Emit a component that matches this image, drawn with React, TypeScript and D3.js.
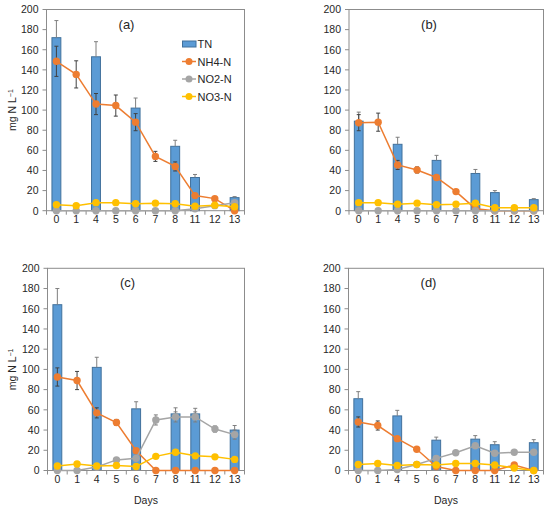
import React from "react";
import * as d3 from "d3";

const days = ["0", "1", "4", "5", "6", "7", "8", "11", "12", "13"];
const yTicks = [0, 20, 40, 60, 80, 100, 120, 140, 160, 180, 200];

// Panel (a)
const tnA = [172, null, 153, null, 102, null, 64, 33, null, 13];
const tnErrA = [17, null, 15, null, 10, null, 6, 3, null, 1];
const nh4A = [148.5, 135.5, 106, 104.5, 88, 54, 44, 15, 12, 0];
const nh4ErrA = [15, 13.5, 10.5, 10.5, 8.5, 5, 4.5, 2, 1, 0];
const no2A = [0, 0, 0, 0, 0, 0, 0, 2, 5, 8];
const no2ErrA = [0, 0, 0, 0, 0, 0, 0, 0, 0, 0];
const no3A = [6, 5, 8, 8, 7, 7.5, 7, 4.5, 5.5, 4];

// Panel (b)
const tnB = [89, null, 66, null, 50, null, 37, 18, null, 11];
const tnErrB = [9, null, 7, null, 5, null, 4, 2, null, 1];
const nh4B = [87.5, 88, 45.5, 40.5, 33, 19, 2, 0, 0, 0];
const nh4ErrB = [8, 9, 4.5, 3, 2, 1, 0, 0, 0, 0];
const no2B = [0, 0, 0, 0, 0, 0, 0, 0, 0, 0];
const no2ErrB = [0, 0, 0, 0, 0, 0, 0, 0, 0, 0];
const no3B = [8, 8, 6.5, 7.5, 6, 6.5, 7.5, 3, 3, 3];

// Panel (c)
const tnC = [164, null, 102, null, 61, null, 56, 56, null, 40];
const tnErrC = [16, null, 10, null, 7, null, 6, 5.5, null, 4.5];
const nh4C = [92.5, 89, 57, 47.5, 19.5, 0, 0, 0, 0, 0];
const nh4ErrC = [9, 9, 5, 3, 0, 0, 0, 0, 0, 0];
const no2C = [0, 0, 3.5, 10.5, 12, 50, 53, 53, 41, 35.5];
const no2ErrC = [0, 0, 0, 0, 0, 5, 5, 5, 3, 4.5];
const no3C = [4.5, 6.5, 4.5, 5, 4, 14, 18, 14.5, 13.5, 11];

// Panel (d)
const tnD = [71, null, 54, null, 30, null, 31, 25.5, null, 27.5];
const tnErrD = [7, null, 5.5, null, 3, null, 3.5, 3, null, 3];
const nh4D = [48, 44.5, 31.5, 21, 4, 0, 0, 0, 5.5, 0];
const nh4ErrD = [5, 4.5, 0, 0, 0, 0, 0, 0, 0, 0];
const no2D = [0, 0, 1, 6, 12, 17.5, 24.5, 17, 18, 18];
const no2ErrD = [0, 0, 0, 0, 0, 0, 0, 0, 0, 0];
const no3D = [6, 7, 5, 6, 5.5, 7, 7, 5.5, 2.5, 0];

const legendLabels = ["TN", "NH4-N", "NO2-N", "NO3-N"];

const C_TN = "#5B9BD5";
const C_TN_EDGE = "#41719C";
const C_NH4 = "#ED7D31";
const C_NO2 = "#A5A5A5";
const C_NO3 = "#FFC000";
const AXIS = "#8C8C8C";
const TXT = "#262626";
const FONT = "'Liberation Sans', Arial, sans-serif";

type P = {
  label: string;
  left: number;
  right: number;
  top: number;
  bottom: number;
  tn: (number | null)[];
  tnErr: (number | null)[];
  nh4: number[];
  nh4Err: number[];
  no2: number[];
  no2Err: number[];
  no3: number[];
  yTitle: boolean;
  xTitle: boolean;
  legend: boolean;
};

const panels: P[] = [
  { label: "(a)", left: 46.5, right: 244.5, top: 9.5, bottom: 210.7, tn: tnA, tnErr: tnErrA, nh4: nh4A, nh4Err: nh4ErrA, no2: no2A, no2Err: no2ErrA, no3: no3A, yTitle: true, xTitle: false, legend: true },
  { label: "(b)", left: 349, right: 543.5, top: 9.5, bottom: 210.7, tn: tnB, tnErr: tnErrB, nh4: nh4B, nh4Err: nh4ErrB, no2: no2B, no2Err: no2ErrB, no3: no3B, yTitle: false, xTitle: false, legend: false },
  { label: "(c)", left: 47.5, right: 244.5, top: 268.3, bottom: 470.5, tn: tnC, tnErr: tnErrC, nh4: nh4C, nh4Err: nh4ErrC, no2: no2C, no2Err: no2ErrC, no3: no3C, yTitle: true, xTitle: true, legend: false },
  { label: "(d)", left: 348.5, right: 543.5, top: 268.3, bottom: 470.5, tn: tnD, tnErr: tnErrD, nh4: nh4D, nh4Err: nh4ErrD, no2: no2D, no2Err: no2ErrD, no3: no3D, yTitle: false, xTitle: true, legend: false },
];

function Series({ vals, errs, color, errColor, x, y }: any) {
  const cx = (i: number) => (x(days[i]) as number) + x.bandwidth() / 2;
  const line = d3
    .line<number>()
    .x((_, i) => cx(i))
    .y((d) => y(d));
  return (
    <g>
      {errs.map((e: number, i: number) =>
        e > 0 ? (
          <g key={"e" + i} stroke={errColor} strokeWidth={1}>
            <line x1={cx(i)} x2={cx(i)} y1={y(vals[i] - e)} y2={y(vals[i] + e)} />
            <line x1={cx(i) - 2} x2={cx(i) + 2} y1={y(vals[i] + e)} y2={y(vals[i] + e)} />
            <line x1={cx(i) - 2} x2={cx(i) + 2} y1={y(vals[i] - e)} y2={y(vals[i] - e)} />
          </g>
        ) : null
      )}
      <path d={line(vals) || ""} fill="none" stroke={color} strokeWidth={1.5} />
      {vals.map((v: number, i: number) => (
        <circle key={"m" + i} cx={cx(i)} cy={y(v)} r={3.7} fill={color} />
      ))}
    </g>
  );
}

function Panel({ p }: { p: P }) {
  const x = d3.scaleBand<string>().domain(days).range([p.left, p.right]).paddingInner(0).paddingOuter(0);
  const y = d3.scaleLinear().domain([0, 200]).range([p.bottom, p.top]);
  const step = x.step();
  const bw = step * 0.45;
  const cx = (i: number) => (x(days[i]) as number) + step / 2;
  const midY = (p.top + p.bottom) / 2;
  const midX = (p.left + p.right) / 2;
  return (
    <g fontFamily={FONT}>
      {/* bars */}
      {p.tn.map((v, i) =>
        v == null ? null : (
          <rect key={"b" + i} x={cx(i) - bw / 2} y={y(v)} width={bw} height={p.bottom - y(v)} fill={C_TN} stroke={C_TN_EDGE} strokeWidth={1} />
        )
      )}
      {p.tn.map((v, i) => {
        const e = p.tnErr[i];
        if (v == null || e == null || e <= 0) return null;
        return (
          <g key={"te" + i} stroke="#7F7F7F" strokeWidth={1}>
            <line x1={cx(i)} x2={cx(i)} y1={y(v)} y2={y(v + e)} />
            <line x1={cx(i) - 2} x2={cx(i) + 2} y1={y(v + e)} y2={y(v + e)} />
          </g>
        );
      })}
      {/* frame */}
      <rect x={p.left} y={p.top} width={p.right - p.left} height={p.bottom - p.top} fill="none" stroke={AXIS} strokeWidth={1} />
      {/* y ticks */}
      {yTicks.map((t) => (
        <g key={"yt" + t}>
          <line x1={p.left - 4} x2={p.left} y1={y(t)} y2={y(t)} stroke={AXIS} />
          <text x={p.left - 8} y={y(t) + 3.8} textAnchor="end" fontSize={10.5} fill={TXT}>
            {t}
          </text>
        </g>
      ))}
      {/* x ticks at band edges */}
      {d3.range(days.length + 1).map((k) => (
        <line key={"xt" + k} x1={p.left + k * step} x2={p.left + k * step} y1={p.bottom} y2={p.bottom + 4} stroke={AXIS} />
      ))}
      {days.map((d, i) => (
        <text key={"xl" + d} x={cx(i)} y={p.bottom + 12} textAnchor="middle" fontSize={10.5} fill={TXT}>
          {d}
        </text>
      ))}
      {/* series */}
      <Series vals={p.nh4} errs={p.nh4Err} color={C_NH4} errColor="#404040" x={x} y={y} />
      <Series vals={p.no2} errs={p.no2Err} color={C_NO2} errColor="#7F7F7F" x={x} y={y} />
      <Series vals={p.no3} errs={p.no3.map(() => 0)} color={C_NO3} errColor="#7F7F7F" x={x} y={y} />
      {/* panel label */}
      <text x={p.left + 80} y={p.top + 19} textAnchor="middle" fontSize={13} fill={TXT}>
        {p.label}
      </text>
      {p.yTitle && (
        <text transform={`translate(${16},${midY}) rotate(-90)`} textAnchor="middle" fontSize={10.5} fill={TXT}>
          mg N L<tspan baselineShift="super" fontSize={7}>−1</tspan>
        </text>
      )}
      {p.xTitle && (
        <text x={midX} y={p.bottom + 33.5} textAnchor="middle" fontSize={10.5} fill={TXT}>
          Days
        </text>
      )}
      {p.legend && (
        <g fontSize={11} fill={TXT}>
          {legendLabels.map((lab, k) => {
            const ly = 44 + k * 17.5;
            const colors = [C_TN, C_NH4, C_NO2, C_NO3];
            return (
              <g key={lab}>
                {k === 0 ? (
                  <rect x={182.5} y={ly - 3} width={13.5} height={6} fill={C_TN} stroke={C_TN_EDGE} />
                ) : (
                  <g>
                    <line x1={182} x2={196} y1={ly} y2={ly} stroke={colors[k]} strokeWidth={1.5} />
                    <circle cx={189} cy={ly} r={3.5} fill={colors[k]} />
                  </g>
                )}
                <text x={197.5} y={ly + 4} fill={TXT}>
                  {lab}
                </text>
              </g>
            );
          })}
        </g>
      )}
    </g>
  );
}

export default function App() {
  return (
    <svg width={550} height={510} style={{ position: "fixed", left: 0, top: 0, background: "#fff" }}>
      <rect x={0} y={0} width={550} height={510} fill="#fff" />
      {panels.map((p) => (
        <Panel key={p.label} p={p} />
      ))}
    </svg>
  );
}
